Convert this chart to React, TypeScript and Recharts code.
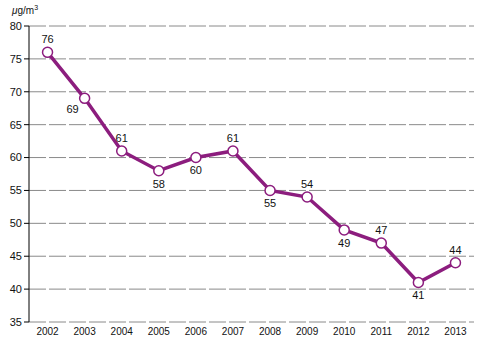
import React from "react";
import { LineChart, Line, XAxis, YAxis, CartesianGrid, LabelList } from "recharts";

const years = ["2002", "2003", "2004", "2005", "2006", "2007", "2008", "2009", "2010", "2011", "2012", "2013"];
const values = [76, 69, 61, 58, 60, 61, 55, 54, 49, 47, 41, 44];
const labelPlacement = ["above", "belowLeft", "above", "below", "below", "above", "below", "above", "below", "above", "below", "above"];
const yTicks = [35, 40, 45, 50, 55, 60, 65, 70, 75, 80];
const boundaryTicks = years.map((_, i) => i).concat([years.length]);
const centerTicks = years.map((_, i) => i + 0.5);

const data = years.map((y, i) => ({ x: i + 0.5, year: y, value: values[i], place: labelPlacement[i] }));

const PURPLE = "#8C1D7E";
const FONT = "'Liberation Sans', Arial, sans-serif";

const PointLabel = (props: any) => {
  const { x, y, value, index } = props;
  const place = labelPlacement[index];
  let dx = 0;
  let dy = -12;
  if (place === "below") dy = 14;
  if (place === "belowLeft") {
    dx = -12;
    dy = 12;
  }
  return (
    <text x={x + dx} y={y + dy} textAnchor="middle" dominantBaseline="middle" fontSize={11} fontFamily={FONT} fill="#111">
      {value}
    </text>
  );
};

export default function App() {
  return (
    <div style={{ position: "absolute", left: 0, top: 0, width: 497, height: 348, background: "#fff" }}>
      <LineChart width={497} height={348} data={data} margin={{ top: 26, right: 23, bottom: 0, left: 0 }}>
        <CartesianGrid horizontal vertical={false} stroke="#8a8a8a" strokeDasharray="17 3" />
        <XAxis
          xAxisId="a"
          dataKey="x"
          type="number"
          domain={[0, years.length]}
          ticks={boundaryTicks}
          interval={0}
          height={0}
          tick={() => <g />}
          tickSize={4}
          axisLine={{ stroke: "#000", strokeWidth: 1 }}
          tickLine={{ stroke: "#000", strokeWidth: 1 }}
        />
        <XAxis
          xAxisId="b"
          dataKey="x"
          type="number"
          domain={[0, years.length]}
          ticks={centerTicks}
          interval={0}
          height={26}
          axisLine={false}
          tickLine={false}
          tickSize={5}
          tickMargin={1}
          tickFormatter={(v: number) => years[Math.floor(v)]}
          tick={{ fontSize: 10, fontFamily: FONT, fill: "#111" }}
        />
        <YAxis
          type="number"
          domain={[35, 80]}
          ticks={yTicks}
          interval={0}
          width={29}
          tickSize={5}
          tickMargin={2}
          axisLine={{ stroke: "#000", strokeWidth: 1 }}
          tickLine={{ stroke: "#000", strokeWidth: 1 }}
          tick={{ fontSize: 11, fontFamily: FONT, fill: "#111" }}
        />
        <Line
          xAxisId="a"
          dataKey="value"
          type="linear"
          stroke={PURPLE}
          strokeWidth={3.5}
          dot={{ r: 5, fill: "#fff", stroke: PURPLE, strokeWidth: 1.5 }}
          activeDot={false}
          isAnimationActive={false}
        >
          <LabelList dataKey="value" content={<PointLabel />} />
        </Line>
        <text x={12} y={14} fontSize={10} fontFamily={FONT} fill="#111">
          <tspan fontStyle="italic">μ</tspan>
          <tspan>g/m</tspan>
          <tspan fontSize={7} dy={-4}>3</tspan>
        </text>
      </LineChart>
    </div>
  );
}
